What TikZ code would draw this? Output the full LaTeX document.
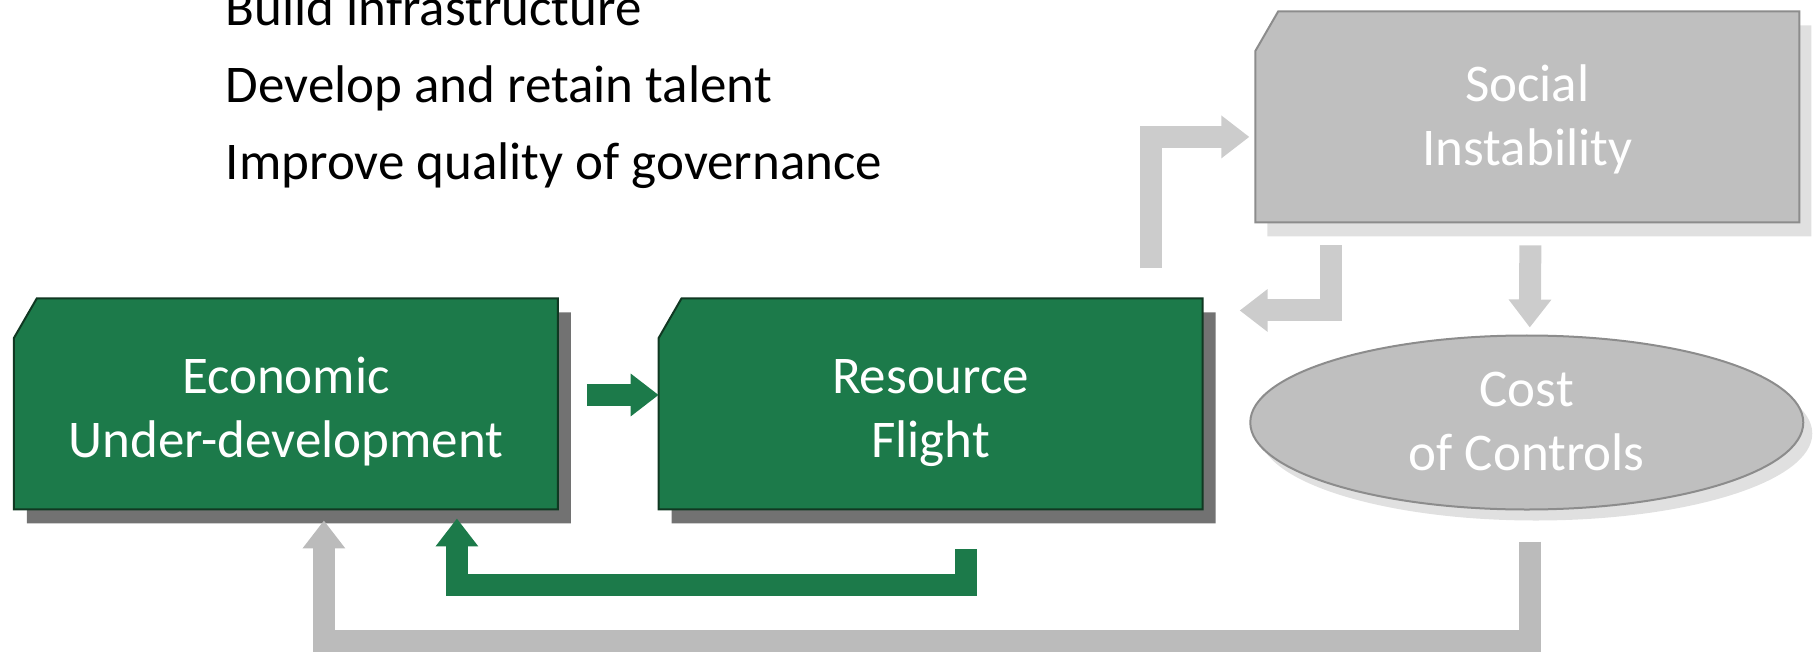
\documentclass[tikz,border=0pt]{standalone}
\usepackage{fontspec}
\setmainfont{Carlito}
\usetikzlibrary{arrows.meta,shapes.misc,shapes.geometric,shadows}
\definecolor{boxgreen}{RGB}{28,122,74}
\definecolor{edgegreen}{RGB}{16,56,34}
\definecolor{boxgray}{RGB}{191,191,191}
\definecolor{edgegray}{RGB}{140,140,140}
\definecolor{flowgray}{RGB}{204,204,204}
\definecolor{loopgray}{RGB}{187,187,187}
\tikzset{
  cutbox/.style={chamfered rectangle, chamfered rectangle corners=north west,
    chamfered rectangle angle=30, chamfered rectangle xsep=21pt,
    minimum width=544pt, minimum height=211pt, inner sep=0pt, outer sep=0pt,
    align=center, text=white, font=\fontsize{53}{64}\selectfont, line width=2pt,
    text depth=0pt},
  greenbox/.style={cutbox, fill=boxgreen, draw=edgegreen, text height=108pt,
    drop shadow={shadow xshift=13pt, shadow yshift=-14pt, fill=black!65, opacity=.85}},
  graybox/.style={cutbox, fill=boxgray, draw=edgegray, text height=98pt,
    drop shadow={shadow xshift=12pt, shadow yshift=-14pt, fill=black!12, opacity=1}},
  grayoval/.style={ellipse, minimum width=553pt, minimum height=174pt, inner sep=0pt,
    outer sep=0pt, align=center, text=white, font=\fontsize{53}{64}\selectfont,
    text height=96pt, text depth=0pt,
    fill=boxgray, draw=edgegray, line width=2pt,
    drop shadow={shadow xshift=9pt, shadow yshift=-11pt, fill=black!12, opacity=1}},
  greenflow/.style={draw=boxgreen, line width=22pt, line join=miter,
    -{Triangle[width=41pt,length=28pt]}},
  grayflow/.style={draw=flowgray, line width=22pt, line join=miter,
    -{Triangle[width=41pt,length=28pt]}},
  loopflow/.style={grayflow, draw=loopgray}
}
\begin{document}
\begin{tikzpicture}[x=1.1575pt,y=-1.1575pt]
\useasboundingbox (0,0) rectangle (1568,573);

% Text Node
\node (goals) [anchor=base west, align=left, inner sep=0pt,
  font=\fontsize{53}{77}\selectfont] at (195,155)
  {Build infrastructure\\Develop and retain talent\\Improve quality of governance};

% boxes
\node (econ)   [greenbox] at (247,349)    {Economic\\Under-development};
\node (flight) [greenbox] at (804,349)    {Resource\\Flight};
\node (social) [graybox]  at (1319.5,101) {Social\\Instability};
\node (cost)   [grayoval] at (1319,365)   {Cost\\of Controls};

% arrows
\draw [greenflow] ([xshift=29pt,yshift=9pt]econ.east) -- ([yshift=9pt]flight.west);
\draw [greenflow] ([xshift=35pt,yshift=-40pt]flight.south) -- ++(0,31)
  -| ([xshift=171pt,yshift=-9pt]econ.south);
\draw [loopflow] ([xshift=3pt,yshift=-32pt]cost.south) -- ++(0,86)
  -| ([xshift=38pt,yshift=-11pt]econ.south);
\draw [grayflow] ([xshift=-52pt,yshift=30pt]flight.north east)
  |- ([xshift=-6pt,yshift=-20pt]social.west);
\draw [grayflow] ([xshift=-196pt,yshift=-23pt]social.south)
  |- ([xshift=37pt,yshift=-12pt]flight.north east);
\draw [grayflow] ([xshift=3pt,yshift=-23pt]social.south) -- ([xshift=3pt,yshift=8pt]cost.north);

\end{tikzpicture}
\end{document}
